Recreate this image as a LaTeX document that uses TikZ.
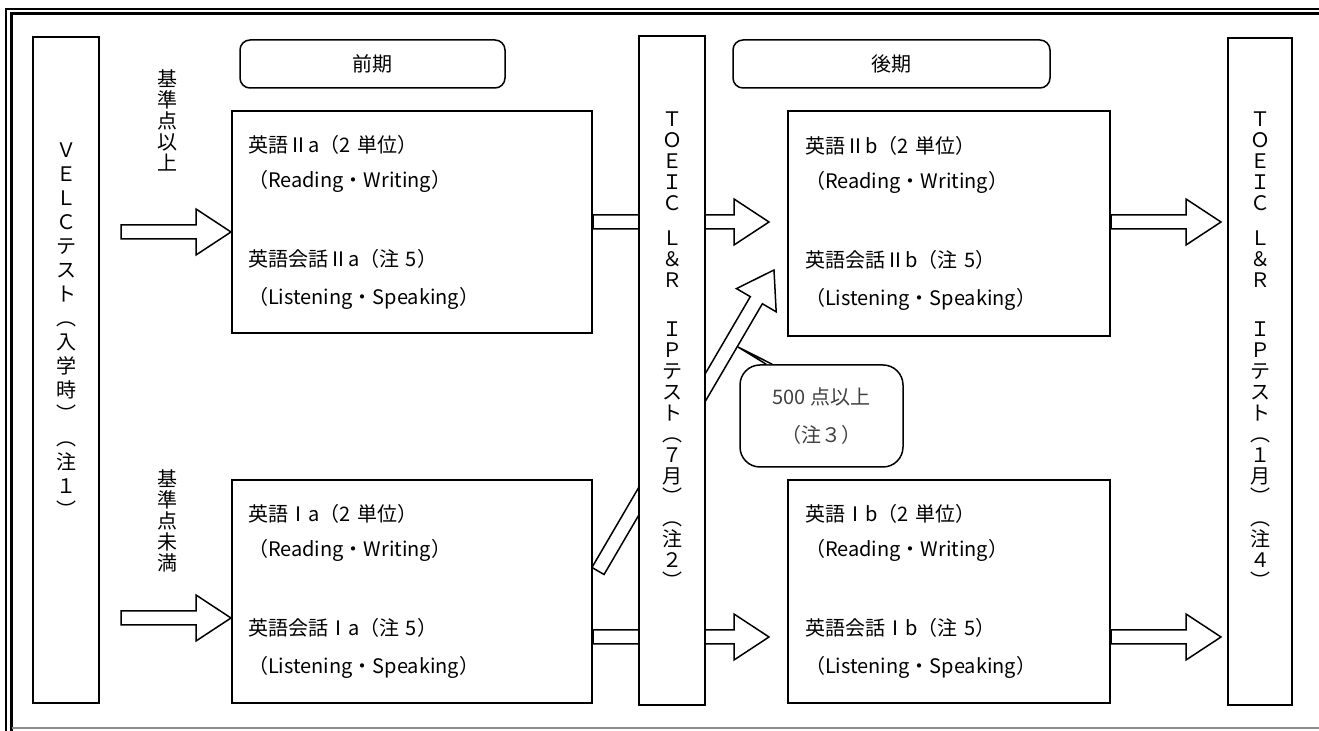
\documentclass[tikz,border=0pt]{standalone}
\usepackage{fontspec}
\setmainfont{Noto Sans CJK JP}
\usetikzlibrary{calc, backgrounds, positioning}

% hollow block arrow from #1 to #2
\newcommand{\blockarrow}[2]{%
  \coordinate (ba) at (#1);
  \coordinate (bt) at (#2);
  \coordinate (bh) at ($(bt)!17.5pt!(ba)$);
  \draw[hollow] ($(ba)!3.5pt!90:(bt)$) -- ($(bh)!3.5pt!90:(bt)$)
    -- ($(bh)!11.5pt!90:(bt)$) -- (bt) -- ($(bh)!11.5pt!-90:(bt)$)
    -- ($(bh)!3.5pt!-90:(bt)$) -- ($(ba)!3.5pt!-90:(bt)$) -- cycle;
}

\begin{document}
\begin{tikzpicture}
  [x=0.5pt, y=-0.5pt,
  course/.style={draw, line width=1pt, fill=white, minimum height=111pt,
    align=left, inner xsep=8pt, font=\fontsize{10}{17.5}\selectfont},
  tall/.style={draw, line width=1pt, fill=white, minimum width=33pt},
  term/.style={draw, line width=0.75pt, rounded corners=5pt,
    minimum height=24pt, font=\fontsize{10}{12}\selectfont},
  vtext/.style={align=center, inner sep=0pt, font=\fontsize{10}{10.5}\selectfont},
  hollow/.style={draw, line width=0.75pt, fill=white, line join=miter}]

  \useasboundingbox (0,0) rectangle (1319,731);

  % frame
  \draw[line width=0.9pt] (6,731) -- (6,9) -- (1319,9);
  \draw[line width=1.3pt] (11.5,731) -- (11.5,13.5) -- (1319,13.5);
  \draw[line width=0.8pt, black!45] (11.5,728) -- (1319,728);

  % tests
  \node[tall, minimum height=333pt] (velc) at (66,370) {};
  \node[vtext, font=\fontsize{10}{12}\selectfont] (velct) at (66,330)
    {Ｖ\\Ｅ\\Ｌ\\Ｃ\\テ\\ス\\ト\\︵\\入\\学\\時\\︶\\︵\\注\\１\\︶};
  \node[tall, minimum height=334.5pt] (toeicA) at (672,370.5) {};
  \node[vtext] (toeicAt) at (672,350)
    {Ｔ\\Ｏ\\Ｅ\\Ｉ\\Ｃ\\[7pt]Ｌ\\＆\\Ｒ\\[14pt]Ｉ\\Ｐ\\テ\\ス\\ト\\︵\\７\\月\\︶\\︵\\注\\２\\︶};
  \node[tall, minimum width=32pt, minimum height=333.5pt] (toeicB) at (1260,371.5) {};
  \node[vtext] (toeicBt) at (1260,350)
    {Ｔ\\Ｏ\\Ｅ\\Ｉ\\Ｃ\\[7pt]Ｌ\\＆\\Ｒ\\[14pt]Ｉ\\Ｐ\\テ\\ス\\ト\\︵\\１\\月\\︶\\︵\\注\\４\\︶};

  % terms
  \node[term, minimum width=132.5pt] (first) at (372.5,64) {前期};
  \node[term, minimum width=158.5pt] (second) at (891.5,64) {後期};

  % courses
  \node[course, text width=164pt] (IIa) at (412,222)
    {英語Ⅱa（2 単位）\\（Reading・Writing）\\[22pt]英語会話Ⅱa（注 5）\\[1.5pt]（Listening・Speaking）};
  \node[course, text width=164pt, minimum height=111.5pt] (Ia) at (412,591.5)
    {英語Ⅰa（2 単位）\\（Reading・Writing）\\[22pt]英語会話Ⅰa（注 5）\\[1.5pt]（Listening・Speaking）};
  \node[course, text width=144pt, inner xsep=8.5pt, minimum height=112.5pt] (IIb) at (949,223.5)
    {英語Ⅱb（2 単位）\\（Reading・Writing）\\[22pt]英語会話Ⅱb（注 5）\\[1.5pt]（Listening・Speaking）};
  \node[course, text width=144pt, inner xsep=8.5pt, minimum height=111.5pt] (Ib) at (949,591.5)
    {英語Ⅰb（2 単位）\\（Reading・Writing）\\[22pt]英語会話Ⅰb（注 5）\\[1.5pt]（Listening・Speaking）};

  % score labels
  \node[vtext] (above) at (167,120) {基\\準\\点\\以\\上};
  \node[vtext] (below) at (167,521) {基\\準\\点\\未\\満};

  % 500 points note
  \node[draw, line width=0.75pt, rounded corners=10pt, minimum width=81.5pt,
    minimum height=51pt, align=center, text=black!75,
    font=\fontsize{10}{19}\selectfont] (note) at (821.5,416) {500 点以上\\（注３）};
  \coordinate (tip) at (738,347);
  \draw[line width=0.75pt, fill=white] ($(note.north west)+(27,0)$) -- (tip)
    -- ($(note.north west)+(33,0)$);

  % arrows
  \begin{scope}[on background layer]
    \coordinate (a1) at ($(velc.east|-IIa.west)+(21,10)$);
    \coordinate (b1) at ($(IIa.west)+(0,10)$);
    \blockarrow{a1}{b1}
    \coordinate (a2) at ($(velc.east|-Ia.west)+(21,26.5)$);
    \coordinate (b2) at ($(Ia.west)+(0,26.5)$);
    \blockarrow{a2}{b2}
    \coordinate (b3) at ($(IIb.west|-IIa.east)+(-18,0)$);
    \blockarrow{IIa.east}{b3}
    \coordinate (a4) at ($(Ia.east)+(0,45.5)$);
    \coordinate (b4) at ($(Ib.west)+(-18,45.5)$);
    \blockarrow{a4}{b4}
    \coordinate (b5) at ($(toeicB.west|-IIb.east)+(-6,-1.5)$);
    \blockarrow{$(IIb.east)+(0,-1.5)$}{b5}
    \coordinate (a6) at ($(Ib.east)+(0,45.5)$);
    \coordinate (b6) at ($(toeicB.west|-a6)+(-6,0)$);
    \blockarrow{a6}{b6}
    % jump to second term
    \coordinate (a7) at ($(Ia.north east)+(5,92)$);
    \coordinate (b7) at ($(IIb.west)+(-13,46.5)$);
    \blockarrow{a7}{b7}
  \end{scope}
\end{tikzpicture}
\end{document}
